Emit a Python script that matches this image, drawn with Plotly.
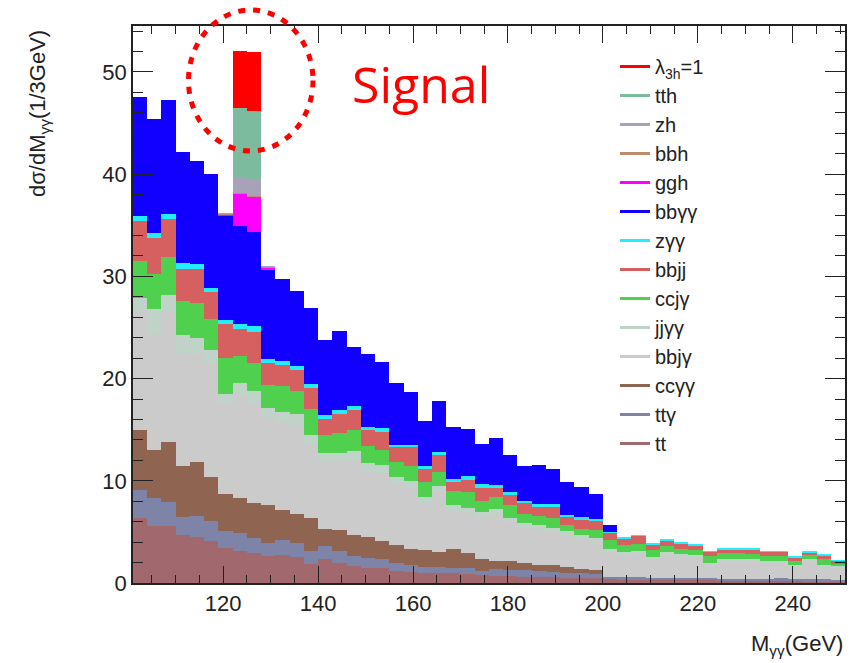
import plotly.graph_objects as go

# ---- bins (lower edges, GeV), 3 GeV wide ----
bin_low = [101, 104, 107, 110, 113, 116, 119, 122, 125, 128,
           131, 134, 137, 140, 143, 146, 149, 152, 155, 158,
           161, 164, 167, 170, 173, 176, 179, 182, 185, 188,
           191, 194, 197, 200, 203, 206, 209, 212, 215, 218,
           221, 224, 227, 230, 233, 236, 239, 242, 245, 248]
bin_width = 3

# ---- stacked components (bottom -> top), dsigma/dM per 3 GeV ----
tt = [6.4, 5.6, 5.55, 4.65, 4.5, 4.1, 3.45, 3.1, 2.9, 2.6,
      2.7, 2.5, 1.9, 2.3, 2.0, 1.7, 1.5, 1.5, 1.15, 1.05,
      1.0, 0.95, 0.95, 0.85, 0.75, 0.7, 0.65, 0.6, 0.6, 0.55,
      0.5, 0.5, 0.45, 0.35, 0.3, 0.3, 0.3, 0.28, 0.25, 0.25,
      0.25, 0.22, 0.22, 0.2, 0.2, 0.2, 0.2, 0.18, 0.18, 0.15]
tta = [2.7, 2.7, 2.35, 1.85, 2.1, 1.95, 1.65, 1.8, 1.5, 1.3,
       1.5, 1.4, 1.2, 1.3, 1.1, 0.9, 0.9, 0.8, 0.85, 0.75,
       0.6, 0.65, 0.55, 0.65, 0.45, 0.65, 0.65, 0.65, 0.6, 0.55,
       0.5, 0.45, 0.45, 0.25, 0.25, 0.25, 0.2, 0.22, 0.2, 0.2,
       0.2, 0.18, 0.18, 0.2, 0.2, 0.25, 0.2, 0.17, 0.17, 0.15]
ccaa = [5.9, 4.7, 5.9, 4.9, 5.2, 4.35, 3.6, 3.4, 3.4, 3.7,
        2.9, 2.9, 3.3, 1.7, 2.1, 2.1, 2.1, 1.8, 1.7, 1.5,
        1.6, 1.4, 1.85, 1.4, 1.1, 0.85, 0.9, 0.75, 0.6, 0.7,
        0.6, 0.45, 0.35, 0, 0, 0, 0, 0, 0, 0,
        0, 0, 0, 0, 0, 0, 0, 0, 0, 0]
bbja = [11.6, 11.5, 12.8, 11.1, 10.6, 11.0, 8.8, 10.0, 9.7, 8.6,
        8.7, 8.7, 7.3, 6.5, 6.7, 7.4, 6.4, 6.7, 6.0, 5.95,
        4.6, 5.9, 3.65, 3.95, 4.1, 4.5, 3.75, 3.45, 3.5, 3.2,
        3.1, 2.9, 2.8, 2.4, 2.15, 2.25, 1.8, 2.2, 2.1, 2.0,
        1.35, 1.7, 1.7, 1.7, 1.55, 1.5, 1.2, 1.75, 1.25, 1.2]
jjaa = [1.3, 2.3, 1.6, 1.8, 1.6, 1.4, 1.0, 1.3, 1.3, 0.9,
        0.9, 1.0, 0.8, 0.9, 0.8, 0.8, 0.8, 0.7, 0.7, 0.7,
        0.6, 0.6, 0.6, 0.5, 0.5, 0.5, 0.45, 0.45, 0.4, 0.4,
        0.4, 0.35, 0.35, 0.3, 0.3, 0.3, 0.25, 0.3, 0.25, 0.25,
        0.2, 0.25, 0.25, 0.2, 0.2, 0.2, 0.2, 0.2, 0.2, 0.15]
ccja = [3.6, 3.4, 3.7, 3.3, 3.4, 3.0, 3.5, 2.6, 2.7, 2.3,
        2.6, 2.3, 2.5, 1.8, 2.0, 2.05, 1.7, 1.55, 1.4, 1.45,
        1.5, 1.4, 1.4, 1.55, 1.1, 1.2, 1.2, 0.9, 0.9, 1.0,
        0.6, 0.65, 0.8, 0.9, 0.75, 0.75, 0.65, 0.6, 0.55, 0.5,
        0.6, 0.55, 0.55, 0.5, 0.45, 0.45, 0.4, 0.4, 0.5, 0.25]
bbjj = [3.9, 3.6, 3.7, 3.1, 3.3, 2.7, 3.3, 2.7, 3.1, 2.1,
        2.0, 2.0, 2.1, 1.5, 1.8, 1.95, 1.55, 1.7, 1.5, 1.9,
        1.25, 1.6, 0.9, 1.2, 1.3, 0.9, 1.05, 1.0, 0.85, 1.05,
        0.8, 0.9, 0.85, 0.7, 0.65, 0.75, 0.6, 0.6, 0.55, 0.5,
        0.45, 0.4, 0.4, 0.5, 0.45, 0.45, 0.3, 0.3, 0.4, 0.3]
zaa = [0.5, 0.4, 0.5, 0.6, 0.5, 0.4, 0.4, 0.4, 0.5, 0.4,
       0.4, 0.4, 0.4, 0.4, 0.4, 0.4, 0.35, 0.4, 0.25, 0.25,
       0.25, 0.35, 0.3, 0.35, 0.35, 0.25, 0.25, 0.2, 0.25, 0.25,
       0.2, 0.3, 0.25, 0.05, 0.05, 0.05, 0.05, 0.05, 0.05, 0.05,
       0.05, 0.05, 0.05, 0.05, 0.05, 0.05, 0.05, 0.05, 0.05, 0.05]
bbaa = [11.7, 11.2, 11.2, 10.9, 10.1, 11.1, 10.3, 9.6, 9.2, 8.8,
        8.0, 7.4, 7.4, 7.4, 7.8, 5.8, 7.1, 6.45, 6.05, 5.15,
        4.5, 4.95, 5.1, 4.65, 3.95, 4.65, 3.6, 3.4, 3.8, 3.5,
        3.2, 2.9, 2.4, 0.75, 0, 0, 0, 0, 0, 0,
        0, 0, 0, 0, 0, 0, 0, 0, 0, 0]
ggh = [0, 0, 0, 0, 0, 0, 0.1, 3.2, 3.5, 0.15] + [0] * 40
bbh = [0, 0, 0, 0, 0, 0, 0.05, 0.1, 0.1, 0.1] + [0] * 40
zh = [0, 0, 0, 0, 0, 0, 0.05, 1.5, 1.6, 0.05] + [0] * 40
tth = [0, 0, 0, 0, 0, 0, 0, 6.8, 6.7, 0] + [0] * 40
sig = [0, 0, 0, 0, 0, 0, 0, 5.6, 5.8, 0] + [0] * 40

# name, values, colour  (stack order bottom -> top)
components = [
    ("tt", tt, "#a1686d"),
    ("tt\u03b3", tta, "#7e84a8"),
    ("cc\u03b3\u03b3", ccaa, "#8f6450"),
    ("bbj\u03b3", bbja, "#cbcbcb"),
    ("jj\u03b3\u03b3", jjaa, "#bfd3c9"),
    ("ccj\u03b3", ccja, "#4fd04f"),
    ("bbjj", bbjj, "#d66060"),
    ("z\u03b3\u03b3", zaa, "#22eeff"),
    ("bb\u03b3\u03b3", bbaa, "#1100ff"),
    ("ggh", ggh, "#ff00ff"),
    ("bbh", bbh, "#c08a70"),
    ("zh", zh, "#a7a1ba"),
    ("tth", tth, "#7dbb9f"),
    ("\u03bb<sub>3h</sub>=1", sig, "#ff0000"),
]

centers = [e + bin_width / 2 for e in bin_low]

fig = go.Figure()
for name, vals, col in components:
    fig.add_trace(go.Bar(x=centers, y=vals, width=bin_width, name=name,
                         marker=dict(color=col, line=dict(width=0)),
                         showlegend=False))
# legend entries drawn as lines (top of stack first)
for name, vals, col in reversed(components):
    fig.add_trace(go.Scatter(x=[None], y=[None], mode="lines", name=name,
                             line=dict(color=col, width=3)))

FONT = "Liberation Sans, Arial, sans-serif"
L, R, T, B = 133, 14, 26, 80
W, H = 859, 663
pw, ph = W - L - R, H - T - B


def px(x):
    return (x - L) / pw


def py(y):
    return (H - B - y) / ph


fig.update_layout(
    width=W, height=H, margin=dict(l=L, r=R, t=T, b=B),
    barmode="stack", bargap=0,
    plot_bgcolor="white", paper_bgcolor="white",
    font=dict(family=FONT, color="#222", size=20),
    legend=dict(x=px(615), y=py(47), xanchor="left", yanchor="top",
                bgcolor="rgba(0,0,0,0)", traceorder="normal",
                font=dict(size=20, family=FONT, color="#222")),
    xaxis=dict(range=[101, 251], tick0=0, dtick=20, ticks="inside", ticklen=17,
               tickwidth=1.3, tickcolor="#222", showline=True, linecolor="#222",
               linewidth=1.5, mirror="allticks", showgrid=False, zeroline=False,
               tickfont=dict(size=22, family=FONT, color="#222"),
               minor=dict(dtick=5, ticks="inside", ticklen=8, tickwidth=1.2,
                          tickcolor="#222")),
    yaxis=dict(range=[0, 54.5], dtick=10, ticks="inside", ticklen=20,
               tickwidth=1.3, tickcolor="#222", showline=True, linecolor="#222",
               linewidth=1.5, mirror="allticks", showgrid=False, zeroline=False,
               tickfont=dict(size=22, family=FONT, color="#222"),
               minor=dict(dtick=2, ticks="inside", ticklen=10, tickwidth=1.2,
                          tickcolor="#222")),
)

fig.add_annotation(text="d\u03c3/dM<sub>\u03b3\u03b3</sub>(1/3GeV)", xref="paper", yref="paper",
                   x=px(39), y=py(114), xanchor="center", yanchor="middle",
                   textangle=-90, showarrow=False,
                   font=dict(size=22, family=FONT, color="#222"))
fig.add_annotation(text="M<sub>\u03b3\u03b3</sub>(GeV)", xref="paper", yref="paper",
                   x=1.0, y=py(645), xanchor="right", yanchor="middle",
                   showarrow=False, font=dict(size=22, family=FONT, color="#222"))
fig.add_annotation(text="Signal", xref="paper", yref="paper",
                   x=px(421), y=py(84), xanchor="center", yanchor="middle",
                   showarrow=False, font=dict(size=50, family="Open Sans, Noto Sans", color="#ff0000"))
fig.add_shape(type="circle", xref="paper", yref="paper",
              x0=px(188.5), x1=px(313), y0=py(151), y1=py(10),
              line=dict(color="#ff0000", width=5, dash="7px,8px"))

fig.write_html("out.html")
